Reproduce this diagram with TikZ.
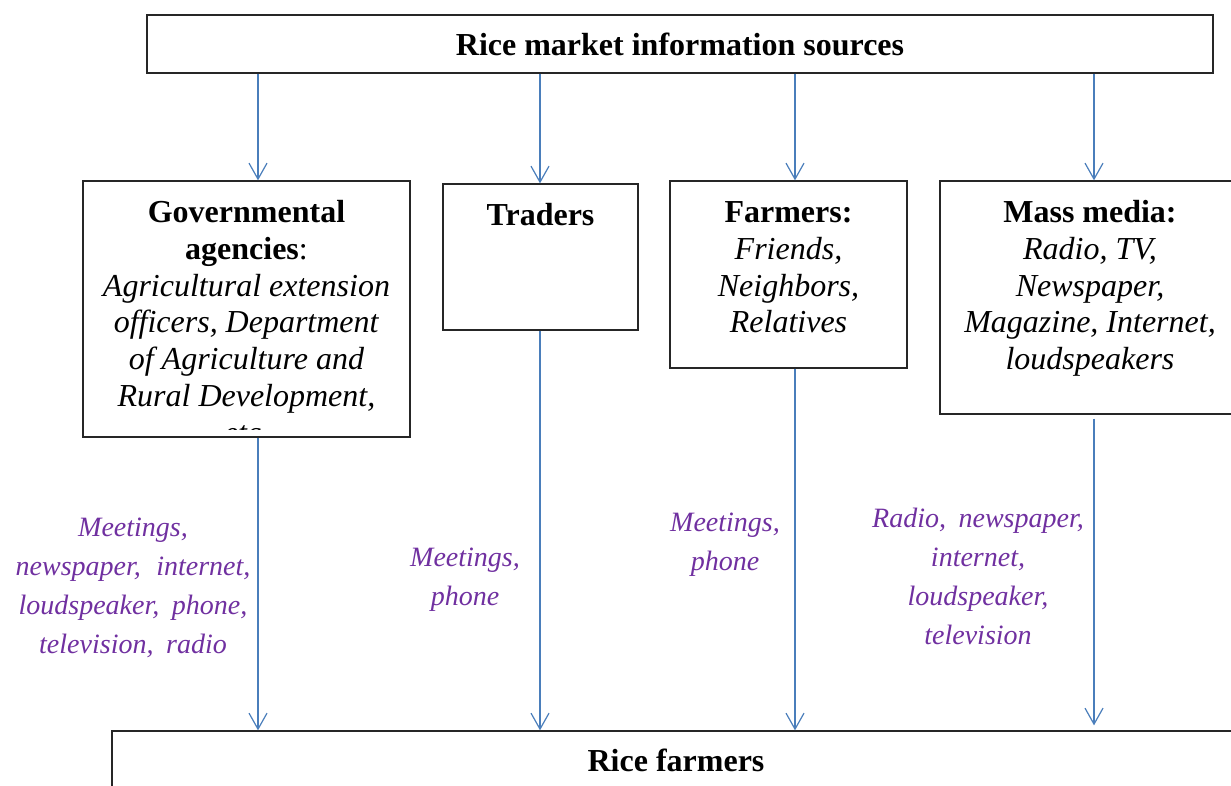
\documentclass[tikz,border=0pt]{standalone}
\usepackage{fontspec}
\setmainfont{Liberation Serif}
\usetikzlibrary{arrows.meta}
\definecolor{arrowblue}{HTML}{4A7EBB}
\definecolor{labelpurple}{HTML}{7030A0}
\definecolor{boxline}{HTML}{262626}
\begin{document}
\begin{tikzpicture}[x=1pt,y=-1pt,
  box/.style={draw=boxline, line width=1.3pt, fill=white, rectangle, inner sep=0pt},
  boxtext/.style={font=\fontsize{32}{36.7}\selectfont, align=center, inner sep=0pt},
  titletext/.style={font=\fontsize{32}{36.7}\selectfont\bfseries, align=center, inner sep=0pt},
  lbl/.style={text=labelpurple, font=\fontsize{28}{39}\selectfont\itshape, align=center, inner sep=0pt},
  arr/.style={draw=arrowblue, line width=1.2pt, -{Straight Barb[length=16pt,width=18pt,line width=1.2pt]}}
]
\useasboundingbox (0,0) rectangle (1231,785);
\clip (0,0) rectangle (1231,785);

% boxes
\node[box, minimum width=1066pt, minimum height=58pt] (top) at (680,44) {};
\node[box, minimum width=327pt, minimum height=256pt] (gov) at (246.5,309) {};
\node[box, minimum width=195pt, minimum height=146pt] (trad) at (540.5,257) {};
\node[box, minimum width=237pt, minimum height=187pt] (farm) at (788.5,274.5) {};
\node[box, minimum width=300pt, minimum height=233pt] (mass) at (1090,297.5) {};
\node[box, minimum width=1128pt, minimum height=80pt] (bot) at (676,771) {};

% box texts
\node[titletext] (toptext) at (680,44) {Rice market information sources};
\begin{scope}
  \clip (85,183) rectangle (408,429);
  \node[boxtext, anchor=north] (govtext) at (246.5,197) {\strut\textbf{Governmental}\\\textbf{agencies}:\\\textit{Agricultural extension}\\\textit{officers, Department}\\\textit{of Agriculture and}\\\textit{Rural Development,}\\\textit{etc.}};
\end{scope}
\node[titletext] (tradtext) at (540.5,215) {Traders};
\node[boxtext, anchor=north] (farmtext) at (788.5,197) {\strut\textbf{Farmers:}\\\textit{Friends,}\\\textit{Neighbors,}\\\textit{Relatives}};
\node[boxtext, anchor=north] (masstext) at (1090,197) {\strut\textbf{Mass media:}\\\textit{Radio, TV,}\\\textit{Newspaper,}\\\textit{Magazine, Internet,}\\\textit{loudspeakers}};
\node[titletext] (bottext) at (676,760) {Rice farmers};

% arrow positions
\coordinate (xg) at (258,0);
\coordinate (xt) at (540,0);
\coordinate (xf) at (795,0);
\coordinate (xm) at (1094,0);

\draw[arr] (top.south -| xg) -- (gov.north -| xg);
\draw[arr] (top.south -| xt) -- (trad.north -| xt);
\draw[arr] (top.south -| xf) -- (farm.north -| xf);
\draw[arr] (top.south -| xm) -- (mass.north -| xm);

\draw[arr] (gov.south -| xg) -- (bot.north -| xg);
\draw[arr] (trad.south -| xt) -- (bot.north -| xt);
\draw[arr] (farm.south -| xf) -- (bot.north -| xf);
\draw[arr, shorten <=4pt, shorten >=5pt] (mass.south -| xm) -- (bot.north -| xm);

% labels
\node[lbl] (govlbl) at (133,588) {Meetings,\\newspaper,\hspace{0.3em} internet,\\loudspeaker,\hspace{0.2em} phone,\\television,\hspace{0.2em} radio};
\node[lbl] (tradlbl) at (465,580) {Meetings,\\phone};
\node[lbl] (farmlbl) at (725,545) {Meetings,\\phone};
\node[lbl] (masslbl) at (978,576) {Radio,\hspace{0.2em} newspaper,\\internet,\\loudspeaker,\\television};
\end{tikzpicture}
\end{document}
